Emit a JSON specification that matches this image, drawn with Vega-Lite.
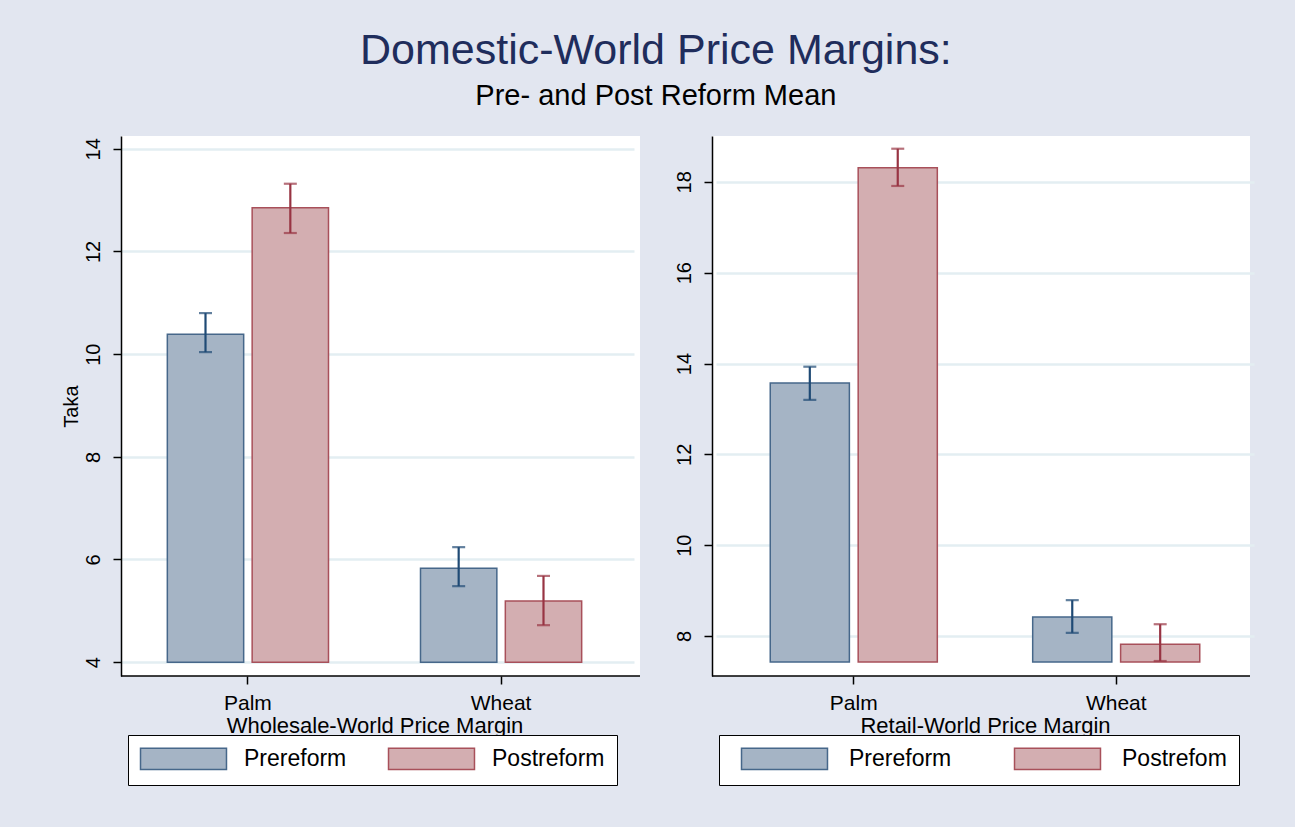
{
  "$schema": "https://vega.github.io/schema/vega-lite/v6.json",
  "background": "#E2E6F0",
  "padding": {"left": 60, "top": 30, "right": 46, "bottom": 41},
  "title": {
    "text": "Domestic-World Price Margins:",
    "subtitle": "Pre- and Post Reform Mean",
    "fontSize": 43,
    "font": "Liberation Sans",
    "fontWeight": "normal",
    "color": "#1F2D5C",
    "subtitleFontSize": 29,
    "subtitleColor": "#000000",
    "subtitleFont": "Liberation Sans",
    "subtitlePadding": 9,
    "offset": 25,
    "anchor": "middle"
  },
  "datasets": {
    "d": [
      {"panel": "Wholesale", "crop": "Palm", "period": "Prereform", "mean": 10.39, "lo": 10.04, "hi": 10.80},
      {"panel": "Wholesale", "crop": "Palm", "period": "Postreform", "mean": 12.85, "lo": 12.36, "hi": 13.32},
      {"panel": "Wholesale", "crop": "Wheat", "period": "Prereform", "mean": 5.83, "lo": 5.48, "hi": 6.24},
      {"panel": "Wholesale", "crop": "Wheat", "period": "Postreform", "mean": 5.19, "lo": 4.72, "hi": 5.68},
      {"panel": "Retail", "crop": "Palm", "period": "Prereform", "mean": 13.57, "lo": 13.20, "hi": 13.93},
      {"panel": "Retail", "crop": "Palm", "period": "Postrefom", "mean": 18.31, "lo": 17.91, "hi": 18.73},
      {"panel": "Retail", "crop": "Wheat", "period": "Prereform", "mean": 8.42, "lo": 8.07, "hi": 8.79},
      {"panel": "Retail", "crop": "Wheat", "period": "Postrefom", "mean": 7.82, "lo": 7.45, "hi": 8.26}
    ],
    "base": [{"b": 0}]
  },
  "spacing": 33,
  "resolve": {
    "scale": {"fill": "independent", "stroke": "independent", "color": "independent", "xOffset": "independent"},
    "legend": {"fill": "independent", "stroke": "independent"}
  },
  "hconcat": [
    {
      "width": 519,
      "height": 540,
      "layer": [
        {
          "data": {"name": "d"},
          "transform": [{"filter": "datum.panel == 'Wholesale'"}],
          "mark": {"type": "bar", "strokeWidth": 1.5},
          "encoding": {
            "x": {
              "field": "crop", "type": "nominal",
              "scale": {"paddingInner": 0.35, "paddingOuter": 0.2, "range": [-6, 513]},
              "axis": {"title": "Wholesale-World Price Margin", "labelAngle": 0, "domain": false}
            },
            "xOffset": {
              "field": "period", "type": "nominal",
              "sort": ["Prereform", "Postreform"],
              "scale": {"paddingInner": 0.1, "paddingOuter": 0.02}
            },
            "y": {
              "field": "mean", "type": "quantitative",
              "scale": {"domain": [3.73, 14.25], "nice": false, "zero": false},
              "axis": {"title": "Taka", "values": [4, 6, 8, 10, 12, 14]}
            },
            "y2": {"datum": 4},
            "fill": {
              "field": "period", "type": "nominal",
              "sort": ["Prereform", "Postreform"],
              "scale": {"domain": ["Prereform", "Postreform"], "range": ["#A5B4C5", "#D3AEB1"]},
              "legend": {"orient": "none", "legendX": 7, "legendY": 599, "columnPadding": 38}
            },
            "stroke": {
              "field": "period", "type": "nominal",
              "sort": ["Prereform", "Postreform"],
              "scale": {"domain": ["Prereform", "Postreform"], "range": ["#46678A", "#A8505A"]},
              "legend": {"orient": "none", "legendX": 7, "legendY": 599, "columnPadding": 38}
            }
          }
        },
        {
          "data": {"name": "d"},
          "transform": [{"filter": "datum.panel == 'Wholesale'"}],
          "mark": {"type": "rule", "strokeWidth": 2.2},
          "encoding": {
            "x": {"field": "crop", "type": "nominal"},
            "xOffset": {"field": "period", "type": "nominal", "sort": ["Prereform", "Postreform"]},
            "y": {"field": "lo", "type": "quantitative"},
            "y2": {"field": "hi"},
            "color": {
              "field": "period", "type": "nominal",
              "scale": {"domain": ["Prereform", "Postreform"], "range": ["#1F4A75", "#983443"]},
              "legend": null
            }
          }
        },
        {
          "data": {"name": "d"},
          "transform": [{"filter": "datum.panel == 'Wholesale'"}],
          "mark": {"type": "tick", "size": 13, "thickness": 2.2},
          "encoding": {
            "x": {"field": "crop", "type": "nominal"},
            "xOffset": {"field": "period", "type": "nominal", "sort": ["Prereform", "Postreform"]},
            "y": {"field": "lo", "type": "quantitative"},
            "color": {"field": "period", "type": "nominal", "legend": null}
          }
        },
        {
          "data": {"name": "d"},
          "transform": [{"filter": "datum.panel == 'Wholesale'"}],
          "mark": {"type": "tick", "size": 13, "thickness": 2.2},
          "encoding": {
            "x": {"field": "crop", "type": "nominal"},
            "xOffset": {"field": "period", "type": "nominal", "sort": ["Prereform", "Postreform"]},
            "y": {"field": "hi", "type": "quantitative"},
            "color": {"field": "period", "type": "nominal", "legend": null}
          }
        },
        {
          "data": {"name": "base"},
          "mark": {"type": "rule", "color": "#000000", "strokeWidth": 1.5},
          "encoding": {"y": {"datum": 3.73}}
        }
      ]
    },
    {
      "width": 538,
      "height": 540,
      "layer": [
        {
          "data": {"name": "d"},
          "transform": [{"filter": "datum.panel == 'Retail'"}],
          "mark": {"type": "bar", "strokeWidth": 1.5},
          "encoding": {
            "x": {
              "field": "crop", "type": "nominal",
              "scale": {"paddingInner": 0.35, "paddingOuter": 0.2, "range": [4, 542]},
              "axis": {"title": "Retail-World Price Margin", "labelAngle": 0, "domain": false}
            },
            "xOffset": {
              "field": "period", "type": "nominal",
              "sort": ["Prereform", "Postrefom"],
              "scale": {"paddingInner": 0.1, "paddingOuter": 0.02}
            },
            "y": {
              "field": "mean", "type": "quantitative",
              "scale": {"domain": [7.12, 19.01], "nice": false, "zero": false},
              "axis": {"title": null, "values": [8, 10, 12, 14, 16, 18]}
            },
            "y2": {"datum": 7.43},
            "fill": {
              "field": "period", "type": "nominal",
              "sort": ["Prereform", "Postrefom"],
              "scale": {"domain": ["Prereform", "Postrefom"], "range": ["#A5B4C5", "#D3AEB1"]},
              "legend": {"orient": "none", "legendX": 7, "legendY": 599, "columnPadding": 52, "symbolOffset": 42, "labelOffset": 53}
            },
            "stroke": {
              "field": "period", "type": "nominal",
              "sort": ["Prereform", "Postrefom"],
              "scale": {"domain": ["Prereform", "Postrefom"], "range": ["#46678A", "#A8505A"]},
              "legend": {"orient": "none", "legendX": 7, "legendY": 599, "columnPadding": 52, "symbolOffset": 42, "labelOffset": 53}
            }
          }
        },
        {
          "data": {"name": "d"},
          "transform": [{"filter": "datum.panel == 'Retail'"}],
          "mark": {"type": "rule", "strokeWidth": 2.2},
          "encoding": {
            "x": {"field": "crop", "type": "nominal"},
            "xOffset": {"field": "period", "type": "nominal", "sort": ["Prereform", "Postrefom"]},
            "y": {"field": "lo", "type": "quantitative"},
            "y2": {"field": "hi"},
            "color": {
              "field": "period", "type": "nominal",
              "scale": {"domain": ["Prereform", "Postrefom"], "range": ["#1F4A75", "#983443"]},
              "legend": null
            }
          }
        },
        {
          "data": {"name": "d"},
          "transform": [{"filter": "datum.panel == 'Retail'"}],
          "mark": {"type": "tick", "size": 13, "thickness": 2.2},
          "encoding": {
            "x": {"field": "crop", "type": "nominal"},
            "xOffset": {"field": "period", "type": "nominal", "sort": ["Prereform", "Postrefom"]},
            "y": {"field": "lo", "type": "quantitative"},
            "color": {"field": "period", "type": "nominal", "legend": null}
          }
        },
        {
          "data": {"name": "d"},
          "transform": [{"filter": "datum.panel == 'Retail'"}],
          "mark": {"type": "tick", "size": 13, "thickness": 2.2},
          "encoding": {
            "x": {"field": "crop", "type": "nominal"},
            "xOffset": {"field": "period", "type": "nominal", "sort": ["Prereform", "Postrefom"]},
            "y": {"field": "hi", "type": "quantitative"},
            "color": {"field": "period", "type": "nominal", "legend": null}
          }
        },
        {
          "data": {"name": "base"},
          "mark": {"type": "rule", "color": "#000000", "strokeWidth": 1.5},
          "encoding": {"y": {"datum": 7.12}}
        }
      ]
    }
  ],
  "config": {
    "font": "Liberation Sans",
    "view": {"fill": "#FFFFFF", "stroke": null},
    "axis": {
      "labelFont": "Liberation Sans",
      "titleFont": "Liberation Sans",
      "labelColor": "#000000",
      "titleColor": "#000000",
      "titleFontWeight": "normal",
      "domainColor": "#000000",
      "domainWidth": 1.5,
      "tickColor": "#000000",
      "tickWidth": 1.5,
      "tickSize": 8
    },
    "axisX": {
      "grid": false,
      "labelFontSize": 21,
      "titleFontSize": 22,
      "labelPadding": 8,
      "titlePadding": 2
    },
    "axisY": {
      "grid": true,
      "gridColor": "#E3EEF2",
      "gridWidth": 2.5,
      "labelFontSize": 20,
      "labelAngle": 270,
      "labelAlign": "center",
      "labelBaseline": "bottom",
      "labelPadding": 10,
      "titleFontSize": 20,
      "titlePadding": 2
    },
    "legend": {
      "title": null,
      "direction": "horizontal",
      "columns": 2,
      "fillColor": "#FFFFFF",
      "strokeColor": "#000000",
      "padding": 12,
      "symbolType": "M-4,-1H4V1H-4Z",
      "symbolSize": 462,
      "symbolOffset": 32,
      "symbolStrokeWidth": 1.5,
      "symbolOpacity": 1,
      "labelFontSize": 23,
      "labelFont": "Liberation Sans",
      "labelColor": "#000000",
      "labelOffset": 49,
      "labelLimit": 300
    }
  }
}
